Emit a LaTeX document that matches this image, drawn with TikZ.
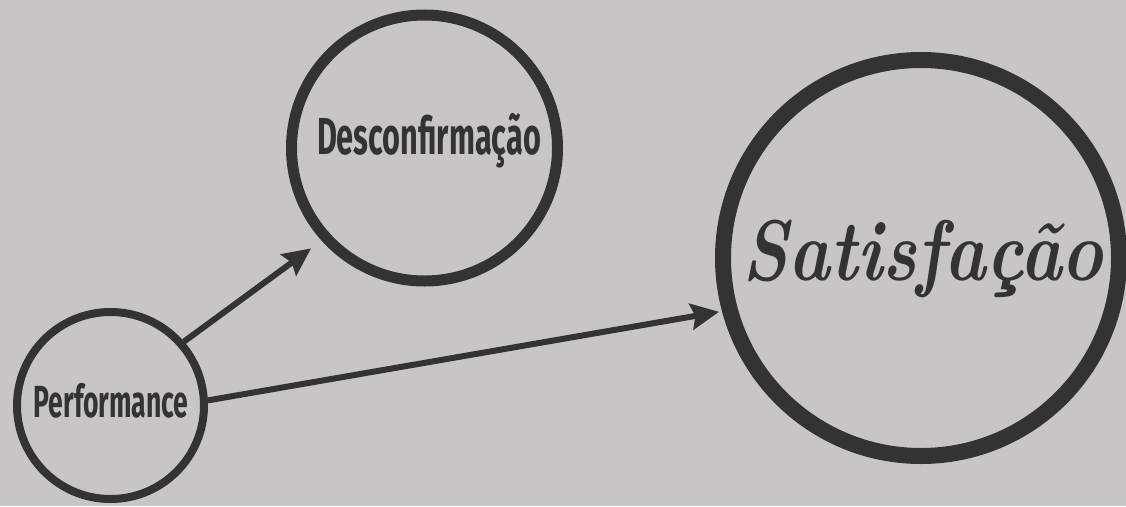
\documentclass[tikz,border=0pt]{standalone}
\usepackage{fontspec}
\usetikzlibrary{arrows.meta}
% narrow bold face for the small circle labels
\newfontfamily\condsans{Fira Sans}[FakeStretch=0.59]
% narrowed serif italic for the main label
\newfontfamily\brush{Latin Modern Roman}[FakeStretch=0.82]
\definecolor{bg}{HTML}{C7C5C5}
\definecolor{ink}{HTML}{333333}
\begin{document}
\begin{tikzpicture}[x=1pt,y=-1pt,
  ring/.style={circle, draw=ink, inner sep=0pt},
  link/.style={draw=ink, line width=6pt,
    -{Stealth[length=28pt,width=26pt,inset=4pt]}},
  tag/.style={text=ink, anchor=base, inner sep=0pt}]
  % canvas
  \fill[bg] (0,0) rectangle (1126,506);
  \useasboundingbox (0,0) rectangle (1126,506);

  % circles
  \node[ring, line width=11pt, minimum size=266pt] (desc) at (424.5,148) {};
  \node[ring, line width=8pt,  minimum size=187pt] (perf) at (110.5,405.5) {};
  \node[ring, line width=16pt, minimum size=396pt] (sat)  at (921,258) {};

  % labels
  \node[tag, font=\condsans\bfseries\fontsize{52}{60}\selectfont] (descText) at (429,154) {Desconfirmação};
  \node[tag, font=\condsans\bfseries\fontsize{45}{52}\selectfont] (perfText) at (111,417) {Performance};
  \node[tag, font=\brush\bfseries\itshape\fontsize{86}{100}\selectfont] (satText) at (923,280) {Satisfação};

  % connectors
  \draw[link, shorten >=13pt] (perf.41) -- (desc.222);
  \draw[link, shorten >=3pt]  (perf.3)  -- (sat.195);
\end{tikzpicture}
\end{document}
